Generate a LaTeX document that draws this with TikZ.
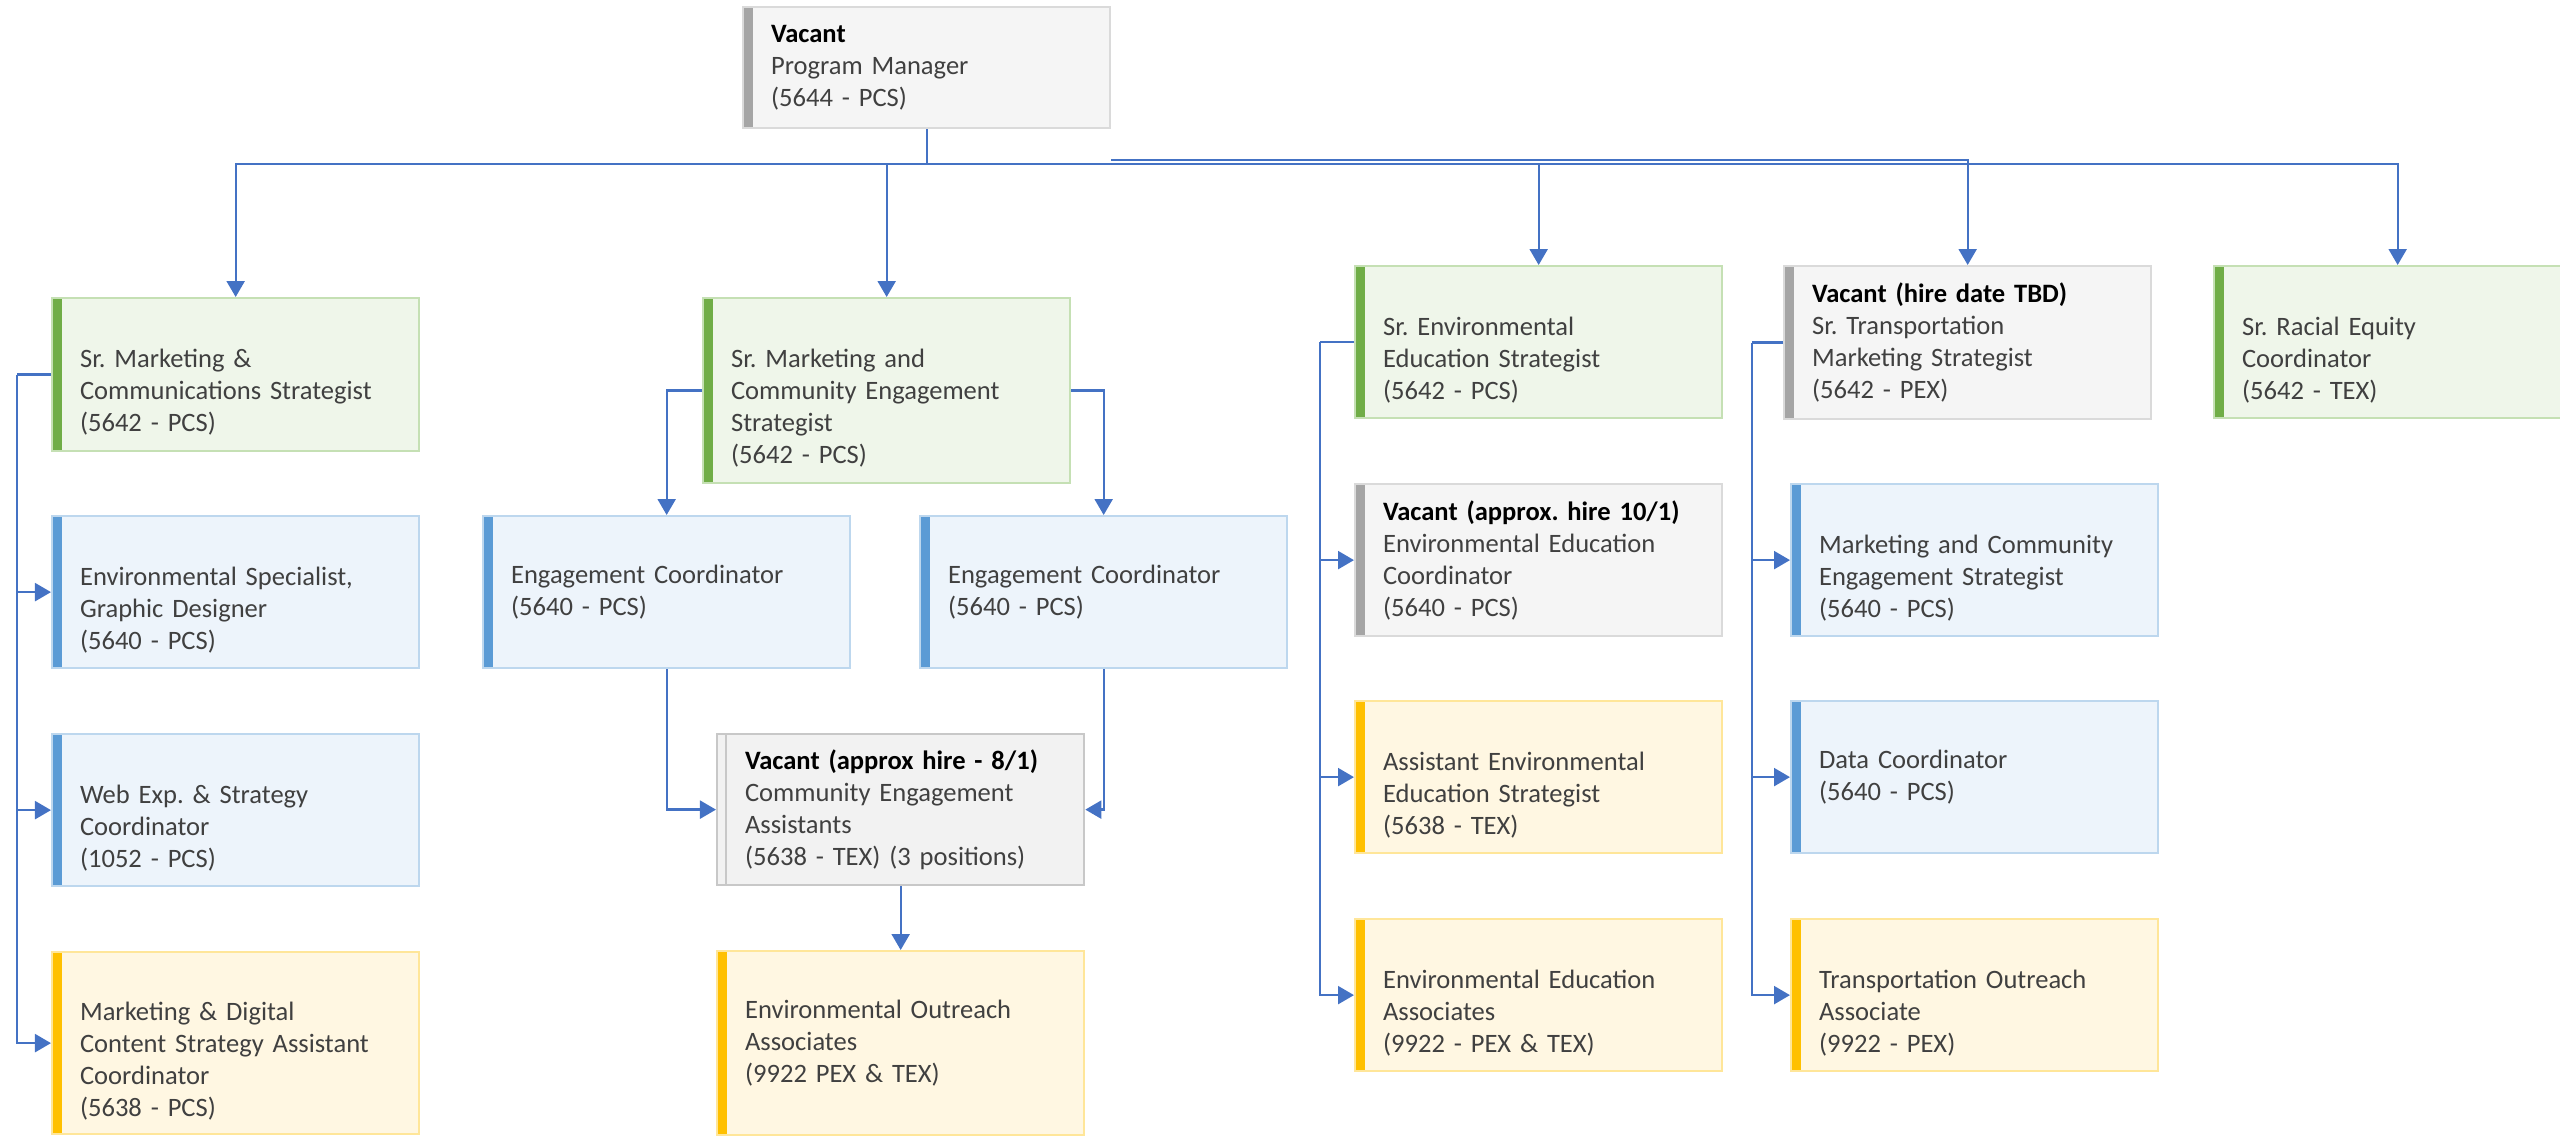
\documentclass[tikz,border=0pt]{standalone}
\usepackage{fontspec}
\setmainfont{Carlito}
\usetikzlibrary{arrows.meta}
\definecolor{linkblue}{HTML}{4472C4}
\definecolor{txt}{HTML}{404040}
\definecolor{grnfill}{HTML}{EFF6EA}
\definecolor{grnline}{HTML}{C5E0B4}
\definecolor{grnbar}{HTML}{70AD47}
\definecolor{blufill}{HTML}{EDF4FB}
\definecolor{bluline}{HTML}{BDD7EE}
\definecolor{blubar}{HTML}{5B9BD5}
\definecolor{ylwfill}{HTML}{FFF7E2}
\definecolor{ylwline}{HTML}{FFE699}
\definecolor{ylwbar}{HTML}{FFC000}
\definecolor{gryfill}{HTML}{F5F5F5}
\definecolor{gryline}{HTML}{DADADA}
\definecolor{grybar}{HTML}{A5A5A5}
\definecolor{pldfill}{HTML}{F2F2F2}
\definecolor{pldline}{HTML}{C8C8C8}
\newcommand\postfont{\fontsize{7.55}{9.1}\selectfont\frenchspacing}
\newcommand\vacant[1]{{\color{black}\textbf{#1}}}
\newcommand\skipline{\strut\\}
\tikzset{
	post/.style={rectangle, anchor=north west, minimum width=3.67cm, text width=3.11cm, inner xsep=0.28cm, inner ysep=0pt, align=left, text=txt, font=\postfont, line width=0.6pt},
	bar/.style={path picture={\fill[#1] (path picture bounding box.north west) rectangle ([xshift=0.1cm]path picture bounding box.south west);}},
	greenpost/.style={post, fill=grnfill, draw=grnline, bar=grnbar},
	bluepost/.style={post, fill=blufill, draw=bluline, bar=blubar},
	yellowpost/.style={post, fill=ylwfill, draw=ylwline, bar=ylwbar},
	greypost/.style={post, fill=gryfill, draw=gryline, bar=grybar},
	plainpost/.style={post, fill=pldfill, draw=pldline, path picture={\draw[pldline, line width=0.6pt] ([xshift=0.09cm]path picture bounding box.north west) -- ([xshift=0.09cm]path picture bounding box.south west);}},
	link/.style={draw=linkblue, line width=0.65pt, -{Triangle[width=0.18cm, length=0.16cm]}},
	wire/.style={draw=linkblue, line width=0.65pt}
}
\begin{document}
\begin{tikzpicture}[x=0.01cm, y=-0.01cm]
	\useasboundingbox (0,0) rectangle (2560,1135);
\node[greypost, minimum height=1.21cm] (pm) at (742,6) {\vacant{Vacant}\\Program Manager\\(5644 - PCS)};
\node[greenpost, minimum height=1.53cm] (mc) at (51,297) {\skipline Sr. Marketing \&\\Communications Strategist\\(5642 - PCS)};
\node[greenpost, minimum height=1.85cm] (mce) at (702,297) {\skipline Sr. Marketing and\\Community Engagement\\Strategist\\(5642 - PCS)};
\node[greenpost, minimum height=1.52cm] (ees) at (1354,265) {\skipline Sr. Environmental\\Education Strategist\\(5642 - PCS)};
\node[greypost, minimum height=1.53cm] (tms) at (1783,265) {\vacant{Vacant (hire date TBD)}\\Sr. Transportation\\Marketing Strategist\\(5642 - PEX)};
\node[greenpost, minimum height=1.52cm] (rec) at (2213,265) {\skipline Sr. Racial Equity\\Coordinator\\(5642 - TEX)};
\node[bluepost, minimum height=1.52cm] (esg) at (51,515) {\skipline Environmental Specialist,\\Graphic Designer\\(5640 - PCS)};
\node[bluepost, minimum height=1.52cm] (web) at (51,733) {\skipline Web Exp. \& Strategy\\Coordinator\\(1052 - PCS)};
\node[yellowpost, minimum height=1.82cm] (mdc) at (51,951) {\skipline Marketing \& Digital\\Content Strategy Assistant\\Coordinator\\(5638 - PCS)};
\node[bluepost, minimum height=1.52cm] (ec1) at (482,515) {Engagement Coordinator\\(5640 - PCS)};
\node[bluepost, minimum height=1.52cm] (ec2) at (919,515) {Engagement Coordinator\\(5640 - PCS)};
\node[plainpost, minimum height=1.51cm] (cea) at (716,733) {\vacant{Vacant (approx hire - 8/1)}\\Community Engagement\\Assistants\\(5638 - TEX) (3 positions)};
\node[yellowpost, minimum height=1.84cm] (eoa) at (716,950) {Environmental Outreach\\Associates\\(9922 PEX \& TEX)};
\node[greypost, minimum height=1.52cm] (eec) at (1354,483) {\vacant{Vacant (approx. hire 10/1)}\\Environmental Education\\Coordinator\\(5640 - PCS)};
\node[yellowpost, minimum height=1.52cm] (aes) at (1354,700) {\skipline Assistant Environmental\\Education Strategist\\(5638 - TEX)};
\node[yellowpost, minimum height=1.52cm] (eea) at (1354,918) {\skipline Environmental Education\\Associates\\(9922 - PEX \& TEX)};
\node[bluepost, minimum height=1.52cm] (mces) at (1790,483) {\skipline Marketing and Community\\Engagement Strategist\\(5640 - PCS)};
\node[bluepost, minimum height=1.52cm] (dc) at (1790,700) {Data Coordinator\\(5640 - PCS)};
\node[yellowpost, minimum height=1.52cm] (toa) at (1790,918) {\skipline Transportation Outreach\\Associate\\(9922 - PEX)};
\coordinate (bus) at ([yshift=-0.35cm]pm.south);
\coordinate (tbus) at ([yshift=-0.31cm]pm.south east);
\draw[wire] (pm.south) -- (bus);
\draw[link] (bus) -| (mc.north);
\draw[link] (bus) -| (mce.north);
\draw[link] (bus) -| (ees.north);
\draw[link] (bus) -| (rec.north);
\draw[link] (tbus) -| (tms.north);
\coordinate (mcspine) at ([xshift=-0.34cm]mc.west);
\draw[wire] (mc.west) -- (mcspine);
\draw[link] (mcspine) |- (esg.west);
\draw[link] (mcspine) |- (web.west);
\draw[link] (mcspine) |- (mdc.west);
\draw[link] (mce.west) -| (ec1.north);
\draw[link] (mce.east) -| (ec2.north);
\draw[link] (ec1.south) |- (cea.west);
\draw[link] (ec2.south) |- (cea.east);
\draw[link] (cea.south) -- (eoa.north);
\coordinate (eespine) at ([xshift=-0.34cm]ees.west);
\draw[wire] (ees.west) -- (eespine);
\draw[link] (eespine) |- (eec.west);
\draw[link] (eespine) |- (aes.west);
\draw[link] (eespine) |- (eea.west);
\coordinate (tmsspine) at ([xshift=-0.31cm]tms.west);
\draw[wire] (tms.west) -- (tmsspine);
\draw[link] (tmsspine) |- (mces.west);
\draw[link] (tmsspine) |- (dc.west);
\draw[link] (tmsspine) |- (toa.west);
\end{tikzpicture}
\end{document}
